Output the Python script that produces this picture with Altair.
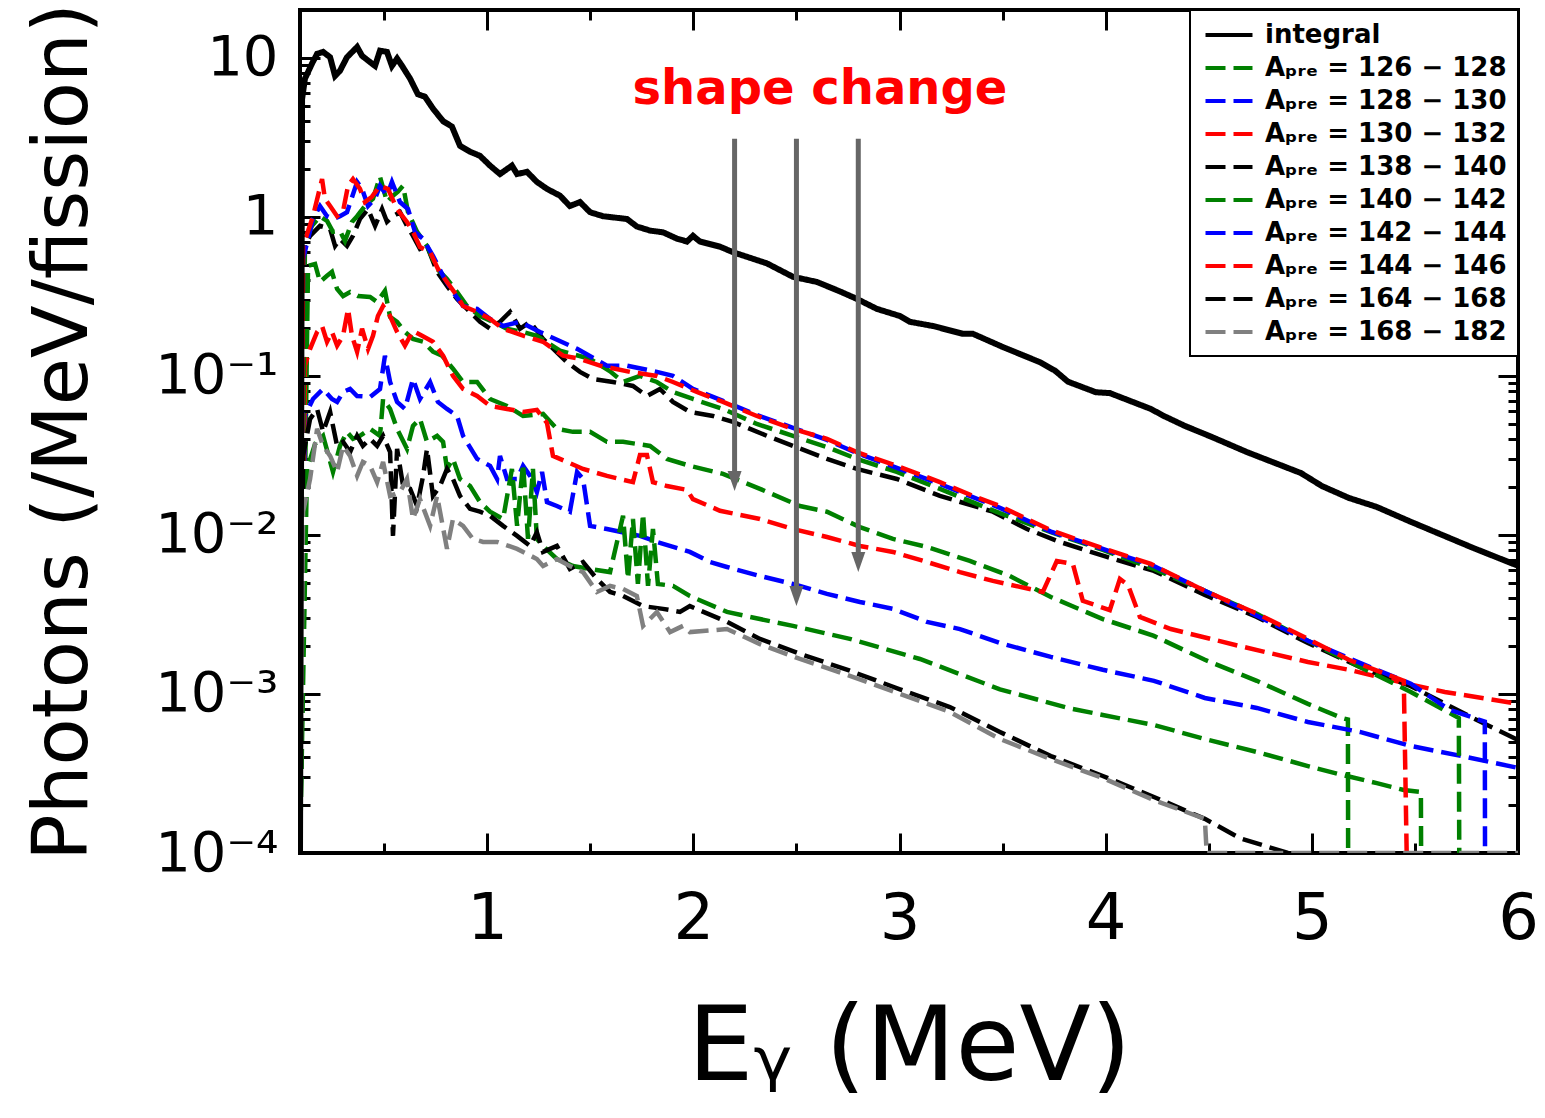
import altair as alt
import pandas as pd

FONT = "DejaVu Sans"

# ---------------- axes ----------------
X_DOMAIN = [0.092, 6.0]
Y_DOMAIN = [1e-4, 20.0]
X_TICKS = [0.5, 1.0, 1.5, 2.0, 2.5, 3.0, 3.5, 4.0, 4.5, 5.0, 5.5, 6.0]
X_LABELS = [1, 2, 3, 4, 5, 6]
Y_LABELS = [1e-4, 1e-3, 1e-2, 1e-1, 1.0, 10.0]
Y_TICKS = [m * d for d in Y_LABELS for m in range(1, 10) if m * d <= 20.0]

# ---------------- legend ----------------
SUB = "\u209a\u1d63\u2091"  # subscript "pre"
RANGES = [(126, 128), (128, 130), (130, 132), (138, 140), (140, 142),
          (142, 144), (144, 146), (164, 168), (168, 182)]
SERIES = ["integral"] + [f"A{SUB} = {a} \u2212 {b}" for a, b in RANGES]
COLORS = ["#000000", "#008000", "#0000ff", "#ff0000", "#000000",
          "#008000", "#0000ff", "#ff0000", "#000000", "#808080"]
DASHES = [[1, 0]] + [[20, 8]] * 9

# ---------------- curves (E [MeV], photons/MeV/fission) ----------------
integral = [(0.092, 1e-4), (0.102, 5.5), (0.116, 7.4), (0.150, 9.2), (0.175, 10.6), (0.204, 10.9),
            (0.238, 10.1), (0.262, 7.7), (0.286, 8.3), (0.320, 10.1), (0.369, 11.7), (0.393, 10.3),
            (0.432, 9.4), (0.456, 8.9), (0.480, 11.1), (0.514, 10.9), (0.538, 8.9), (0.563, 9.9),
            (0.587, 8.9), (0.626, 7.4), (0.664, 5.9), (0.698, 5.7), (0.737, 4.8), (0.786, 4.0),
            (0.829, 3.7), (0.868, 2.8), (0.917, 2.57), (0.965, 2.42), (1.014, 2.1), (1.062, 1.86),
            (1.120, 2.1), (1.145, 1.86), (1.193, 1.92), (1.241, 1.66), (1.290, 1.5), (1.353, 1.36),
            (1.401, 1.17), (1.450, 1.24), (1.499, 1.07), (1.562, 1.01), (1.678, 0.97), (1.726, 0.87),
            (1.790, 0.82), (1.853, 0.80), (1.920, 0.73), (1.969, 0.70), (1.998, 0.76), (2.032, 0.70),
            (2.129, 0.65), (2.192, 0.60), (2.357, 0.51), (2.483, 0.42), (2.599, 0.39), (2.711, 0.34),
            (2.793, 0.305), (2.890, 0.264), (3.002, 0.238), (3.050, 0.219), (3.162, 0.206),
            (3.307, 0.184), (3.356, 0.184), (3.501, 0.152), (3.681, 0.122), (3.754, 0.108),
            (3.817, 0.092), (3.952, 0.079), (4.020, 0.078), (4.219, 0.062), (4.282, 0.056),
            (4.384, 0.0485), (4.515, 0.0413), (4.685, 0.0332), (4.947, 0.0245), (5.049, 0.0203),
            (5.179, 0.0171), (5.315, 0.0150), (5.480, 0.0121), (5.781, 0.0083), (6.0, 0.0064)]

a126_128 = [(0.092, 1e-4), (0.131, 0.492), (0.165, 0.506), (0.189, 0.390), (0.223, 0.426), (0.247, 0.451),
            (0.272, 0.352), (0.301, 0.318), (0.335, 0.337), (0.373, 0.318), (0.432, 0.314), (0.466, 0.292),
            (0.504, 0.343), (0.529, 0.235), (0.563, 0.219), (0.601, 0.189), (0.640, 0.171), (0.689, 0.164),
            (0.737, 0.142), (0.781, 0.134), (0.834, 0.111), (0.883, 0.0916), (0.951, 0.0916),
            (1.014, 0.0716), (1.096, 0.0647), (1.174, 0.0560), (1.271, 0.0577), (1.338, 0.0465),
            (1.416, 0.0445), (1.499, 0.0445), (1.581, 0.0385), (1.659, 0.0385), (1.790, 0.0363),
            (1.872, 0.0301), (1.983, 0.0272), (2.144, 0.0242), (2.323, 0.0195), (2.517, 0.0152),
            (2.648, 0.0140), (2.808, 0.0112), (2.968, 0.00944), (3.133, 0.00841), (3.341, 0.00686),
            (3.535, 0.00552), (3.734, 0.00407), (3.986, 0.00296), (4.234, 0.00232), (4.481, 0.00164),
            (4.733, 0.00121), (4.981, 0.000866), (5.146, 0.000706), (5.175, 0.00069), (5.176, 1e-4)]

a128_130 = [(0.092, 1e-4), (0.116, 0.0560), (0.155, 0.0716), (0.204, 0.0828), (0.247, 0.0716),
            (0.272, 0.0686), (0.301, 0.0793), (0.335, 0.0828), (0.369, 0.0748), (0.432, 0.0738),
            (0.480, 0.0828), (0.504, 0.134), (0.529, 0.0916), (0.563, 0.0686), (0.601, 0.0620),
            (0.640, 0.0957), (0.674, 0.0716), (0.723, 0.0916), (0.761, 0.0686), (0.805, 0.0620),
            (0.854, 0.0560), (0.883, 0.0420), (0.951, 0.0301), (1.014, 0.0272), (1.048, 0.0225),
            (1.062, 0.0314), (1.096, 0.0225), (1.145, 0.0225), (1.174, 0.0272), (1.208, 0.0235),
            (1.241, 0.0186), (1.266, 0.0249), (1.290, 0.0161), (1.338, 0.0152), (1.401, 0.0140),
            (1.436, 0.0249), (1.465, 0.0225), (1.499, 0.0114), (1.581, 0.0109), (1.741, 0.00986),
            (1.823, 0.00904), (1.983, 0.00782), (2.081, 0.00676), (2.163, 0.00629), (2.323, 0.00552),
            (2.483, 0.00492), (2.648, 0.00426), (2.808, 0.00379), (2.968, 0.00343), (3.133, 0.00284),
            (3.293, 0.00256), (3.487, 0.00209), (3.734, 0.00171), (3.986, 0.00142), (4.234, 0.00121),
            (4.481, 0.000944), (4.733, 0.000817), (4.981, 0.000667), (5.233, 0.000577),
            (5.480, 0.000471), (5.727, 0.000407), (6.0, 0.000343)]

a130_132 = [(0.092, 1e-4), (0.116, 0.116), (0.141, 0.148), (0.175, 0.189), (0.199, 0.206), (0.223, 0.164),
            (0.247, 0.189), (0.272, 0.155), (0.301, 0.179), (0.325, 0.264), (0.344, 0.179), (0.369, 0.142),
            (0.393, 0.198), (0.422, 0.148), (0.446, 0.179), (0.470, 0.238), (0.495, 0.275), (0.529, 0.238),
            (0.563, 0.189), (0.601, 0.155), (0.640, 0.192), (0.684, 0.179), (0.737, 0.164), (0.786, 0.134),
            (0.834, 0.100), (0.883, 0.0828), (0.951, 0.0748), (1.014, 0.0647), (1.096, 0.0620),
            (1.174, 0.0594), (1.241, 0.0612), (1.290, 0.0506), (1.319, 0.0314), (1.387, 0.0288),
            (1.465, 0.0260), (1.581, 0.0235), (1.707, 0.0215), (1.741, 0.0318), (1.775, 0.0318),
            (1.804, 0.0215), (1.872, 0.0203), (1.969, 0.0192), (1.998, 0.0168), (2.129, 0.0142),
            (2.323, 0.0126), (2.483, 0.0109), (2.648, 0.00971), (2.808, 0.00853), (2.968, 0.00782),
            (3.133, 0.00676), (3.293, 0.00584), (3.453, 0.00514), (3.695, 0.00438), (3.763, 0.00686),
            (3.841, 0.00657), (3.889, 0.00385), (4.020, 0.00337), (4.069, 0.00529), (4.108, 0.00485),
            (4.166, 0.00305), (4.316, 0.00256), (4.651, 0.00200), (4.981, 0.00159), (5.179, 0.00142),
            (5.461, 0.00116), (5.645, 0.00103), (6.0, 0.000866)]

a138_140 = [(0.092, 1e-4), (0.107, 0.630), (0.141, 0.760), (0.189, 0.878), (0.238, 0.841), (0.262, 0.657),
            (0.286, 0.728), (0.320, 0.657), (0.349, 0.760), (0.383, 0.971), (0.422, 1.12), (0.456, 0.878),
            (0.490, 1.12), (0.514, 0.93), (0.543, 1.01), (0.577, 1.07), (0.611, 0.878), (0.640, 0.760),
            (0.674, 0.630), (0.708, 0.657), (0.757, 0.451), (0.805, 0.368), (0.854, 0.305), (0.902, 0.264),
            (0.965, 0.219), (1.014, 0.198), (1.062, 0.219), (1.111, 0.253), (1.159, 0.198), (1.208, 0.219),
            (1.271, 0.171), (1.387, 0.122), (1.450, 0.106), (1.513, 0.0957), (1.610, 0.0916),
            (1.707, 0.0865), (1.775, 0.0748), (1.838, 0.0828), (1.901, 0.0686), (1.983, 0.0594),
            (2.095, 0.0560), (2.192, 0.0514), (2.357, 0.0420), (2.483, 0.0363), (2.648, 0.0301),
            (2.793, 0.0260), (2.987, 0.0225), (3.196, 0.0176), (3.453, 0.0140), (3.618, 0.0109),
            (3.778, 0.00904), (4.006, 0.00727), (4.234, 0.00594), (4.481, 0.00420), (4.733, 0.00305),
            (4.981, 0.00209), (5.233, 0.00148), (5.480, 0.00112), (5.781, 0.000706), (6.0, 0.000514)]

a140_142 = [(0.092, 1e-4), (0.116, 0.696), (0.150, 0.878), (0.189, 1.01), (0.223, 0.944), (0.252, 0.805),
            (0.286, 0.816), (0.310, 0.706), (0.344, 0.93), (0.369, 1.01), (0.407, 1.17), (0.446, 1.30),
            (0.480, 1.79), (0.514, 1.24), (0.543, 1.36), (0.567, 1.44), (0.592, 1.57), (0.616, 1.07),
            (0.660, 0.805), (0.708, 0.657), (0.757, 0.471), (0.805, 0.407), (0.854, 0.337), (0.902, 0.275),
            (0.965, 0.238), (1.028, 0.219), (1.096, 0.198), (1.174, 0.189), (1.241, 0.179), (1.353, 0.144),
            (1.499, 0.128), (1.596, 0.107), (1.659, 0.0916), (1.741, 0.100), (1.823, 0.0916),
            (1.901, 0.0793), (1.998, 0.0716), (2.144, 0.0620), (2.308, 0.0499), (2.483, 0.0420),
            (2.648, 0.0357), (2.793, 0.0301), (2.987, 0.0249), (3.196, 0.0195), (3.487, 0.0137),
            (3.734, 0.0104), (3.986, 0.00805), (4.234, 0.00611), (4.481, 0.00445), (4.733, 0.00319),
            (4.981, 0.00216), (5.233, 0.00148), (5.480, 0.00103), (5.713, 0.000706), (5.715, 1e-4)]

a142_144 = [(0.092, 1e-4), (0.107, 0.545), (0.155, 0.971), (0.189, 1.17), (0.223, 1.01), (0.252, 0.971),
            (0.286, 1.01), (0.320, 1.07), (0.369, 1.66), (0.393, 1.50), (0.422, 1.17), (0.456, 1.30),
            (0.480, 1.57), (0.514, 1.36), (0.538, 1.66), (0.577, 1.24), (0.616, 1.12), (0.650, 0.805),
            (0.689, 0.728), (0.737, 0.569), (0.786, 0.426), (0.834, 0.337), (0.883, 0.275), (0.951, 0.264),
            (1.014, 0.228), (1.077, 0.206), (1.159, 0.219), (1.256, 0.189), (1.436, 0.148), (1.581, 0.116),
            (1.678, 0.116), (1.823, 0.106), (1.901, 0.100), (1.998, 0.0828), (2.144, 0.0697),
            (2.308, 0.0568), (2.483, 0.0472), (2.648, 0.0396), (2.793, 0.0327), (2.987, 0.0264),
            (3.196, 0.0209), (3.487, 0.0148), (3.734, 0.0105), (3.986, 0.00817), (4.234, 0.00638),
            (4.481, 0.00445), (4.733, 0.00310), (4.981, 0.00216), (5.233, 0.00157), (5.480, 0.00116),
            (5.664, 0.00080), (5.839, 0.00067), (5.84, 1e-4)]

a144_146 = [(0.092, 1e-4), (0.107, 0.657), (0.155, 1.01), (0.199, 1.73), (0.213, 1.30), (0.238, 1.17),
            (0.272, 1.01), (0.301, 1.09), (0.325, 1.57), (0.349, 1.73), (0.383, 1.50), (0.407, 1.24),
            (0.441, 1.34), (0.480, 1.57), (0.519, 1.50), (0.563, 1.12), (0.611, 0.93), (0.640, 0.805),
            (0.674, 0.647), (0.723, 0.602), (0.761, 0.471), (0.805, 0.390), (0.854, 0.318), (0.883, 0.275),
            (0.951, 0.253), (1.014, 0.228), (1.077, 0.198), (1.174, 0.179), (1.271, 0.164), (1.368, 0.134),
            (1.450, 0.128), (1.547, 0.116), (1.693, 0.106), (1.823, 0.100), (1.901, 0.0916),
            (2.017, 0.0793), (2.144, 0.0686), (2.308, 0.0560), (2.483, 0.0465), (2.648, 0.0402),
            (2.793, 0.0332), (2.987, 0.0272), (3.196, 0.0215), (3.356, 0.0176), (3.487, 0.0152),
            (3.734, 0.0107), (3.967, 0.00841), (4.219, 0.00657), (4.481, 0.00445), (4.748, 0.00314),
            (4.981, 0.00222), (5.179, 0.00164), (5.446, 0.00121), (5.46, 1e-4)]

a164_168 = [(0.092, 1e-4), (0.107, 0.0314), (0.141, 0.0537), (0.175, 0.0620), (0.204, 0.0445),
            (0.238, 0.0594), (0.272, 0.0363), (0.301, 0.0385), (0.335, 0.0332), (0.369, 0.0420),
            (0.397, 0.0363), (0.432, 0.0402), (0.466, 0.0363), (0.495, 0.0420), (0.529, 0.0332),
            (0.543, 0.00986), (0.563, 0.0348), (0.592, 0.0203), (0.626, 0.0195), (0.660, 0.0152),
            (0.689, 0.0235), (0.708, 0.0348), (0.737, 0.0176), (0.771, 0.0203), (0.805, 0.0260),
            (0.834, 0.0225), (0.868, 0.0176), (0.917, 0.0146), (0.965, 0.0140), (1.014, 0.0132),
            (1.077, 0.0114), (1.145, 0.00986), (1.208, 0.00853), (1.241, 0.0104), (1.271, 0.00782),
            (1.338, 0.00853), (1.401, 0.00611), (1.465, 0.00676), (1.532, 0.00529), (1.596, 0.00438),
            (1.659, 0.00413), (1.756, 0.00357), (1.853, 0.00343), (1.935, 0.00328), (1.983, 0.00357),
            (2.163, 0.00284), (2.323, 0.00222), (2.517, 0.00179), (2.759, 0.00140), (3.002, 0.00107),
            (3.244, 0.000828), (3.487, 0.000577), (3.734, 0.000407), (3.986, 0.000305),
            (4.234, 0.000225), (4.481, 0.000164), (4.651, 0.000124), (4.884, 1e-4)]

a168_182 = [(0.092, 1e-4), (0.107, 0.0140), (0.141, 0.0225), (0.175, 0.0465), (0.204, 0.0363),
            (0.238, 0.0314), (0.272, 0.0249), (0.301, 0.0363), (0.335, 0.0314), (0.369, 0.0235),
            (0.397, 0.0288), (0.432, 0.0272), (0.466, 0.0215), (0.495, 0.0288), (0.529, 0.0176),
            (0.577, 0.0186), (0.611, 0.0225), (0.640, 0.0126), (0.674, 0.0168), (0.723, 0.0114),
            (0.757, 0.0176), (0.805, 0.00817), (0.834, 0.0126), (0.883, 0.0114), (0.931, 0.00944),
            (0.980, 0.00904), (1.048, 0.00904), (1.145, 0.00817), (1.241, 0.00706), (1.271, 0.00638),
            (1.338, 0.00706), (1.401, 0.00638), (1.465, 0.00584), (1.532, 0.00438), (1.596, 0.00478),
            (1.659, 0.00457), (1.726, 0.00413), (1.756, 0.00268), (1.823, 0.00328), (1.887, 0.00245),
            (1.950, 0.00268), (1.983, 0.00245), (2.163, 0.00256), (2.323, 0.00206), (2.517, 0.00166),
            (2.759, 0.00130), (3.002, 0.00100), (3.244, 0.000771), (3.487, 0.000521),
            (3.734, 0.000390), (3.986, 0.000296), (4.234, 0.000215), (4.481, 0.000164),
            (4.49, 1e-4), (6.0, 1e-4)]

# an additional green curve drawn below the blue 128-130 one
extra_green = [(0.092, 1e-4), (0.126, 0.0260), (0.165, 0.0373), (0.204, 0.0420), (0.252, 0.0249),
               (0.286, 0.0363), (0.320, 0.0445), (0.349, 0.0402), (0.383, 0.0420), (0.432, 0.0465),
               (0.480, 0.0420), (0.495, 0.0716), (0.529, 0.0620), (0.563, 0.0465), (0.611, 0.0348),
               (0.640, 0.0485), (0.674, 0.0537), (0.708, 0.0385), (0.757, 0.0420), (0.786, 0.0385),
               (0.805, 0.0260), (0.834, 0.0301), (0.868, 0.0225), (0.917, 0.0203), (0.965, 0.0161),
               (1.014, 0.0140), (1.077, 0.0126), (1.120, 0.0260), (1.145, 0.0114), (1.174, 0.0280),
               (1.198, 0.00944), (1.222, 0.0260), (1.241, 0.00944), (1.271, 0.00853), (1.338, 0.00706),
               (1.416, 0.00638), (1.499, 0.00611), (1.596, 0.00584), (1.659, 0.0132), (1.683, 0.00529),
               (1.707, 0.0126), (1.731, 0.00492), (1.756, 0.0136), (1.780, 0.00478), (1.804, 0.0109),
               (1.828, 0.00492), (1.901, 0.00478), (1.983, 0.00413), (2.163, 0.00328), (2.323, 0.00296),
               (2.483, 0.00268), (2.759, 0.00222), (3.099, 0.00166), (3.487, 0.00107), (3.817, 0.000817),
               (3.986, 0.000738), (4.234, 0.000638), (4.481, 0.000521), (4.733, 0.000432),
               (4.981, 0.000352), (5.146, 0.000310), (5.315, 0.000275), (5.446, 0.000249),
               (5.529, 0.000242), (5.53, 1e-4)]

# (legend index, points) in drawing order
CURVES = [(0, integral), (1, a126_128), (2, a128_130), (3, a130_132), (1, extra_green),
          (4, a138_140), (5, a140_142), (6, a142_144), (7, a144_146), (8, a164_168), (9, a168_182)]

# ---------------- annotation ----------------
ARROW_E = [2.2, 2.5, 2.8]
ARROW_TOP = [3.1, 3.1, 3.1]
ARROW_BASE = [0.0251, 0.00478, 0.00782]
ARROW_TIP = [0.0189, 0.00357, 0.00584]
NOTE_TEXT = ["shape change"]
NOTE_E = [2.614]
NOTE_Y = [5.14]

# ---------------- build tables ----------------
rows = []
for cid, (li, pts) in enumerate(CURVES):
    for i, (e, v) in enumerate(pts):
        rows.append({"curve": cid, "series": SERIES[li], "E": e, "v": v, "i": i})
df = pd.DataFrame(rows)
df_int = df[df["series"] == "integral"]
df_rest = df[df["series"] != "integral"]
df_arrow = pd.DataFrame({"E": ARROW_E, "top": ARROW_TOP, "base": ARROW_BASE, "tip": ARROW_TIP})
df_note = pd.DataFrame({"E": NOTE_E, "v": NOTE_Y, "t": NOTE_TEXT})

W, H = 1218, 843
xs = alt.Scale(domain=X_DOMAIN, nice=False, zero=False)
ys = alt.Scale(type="log", domain=Y_DOMAIN, nice=False)

X_TSIZE = {"condition": {"test": "datum.value % 1 == 0", "value": 20}, "value": 10}
Y_TSIZE = {"condition": {"test": "abs(log(datum.value) / LN10 - round(log(datum.value) / LN10)) < 0.01",
                         "value": 20}, "value": 10}


def tick_axis(orient, offset, values, size):
    return alt.Axis(orient=orient, offset=offset, values=values, labels=False, domain=False,
                    grid=False, ticks=True, tickSize=size, tickWidth=3, tickColor="black", title=None)


legend = alt.Legend(title=None, orient="top-right", offset=0, padding=11, strokeColor="black",
                    fillColor="white", labelFont=FONT, labelFontSize=26,
                    labelFontWeight="bold", labelColor="black", labelLimit=500,
                    symbolType="M -2 0 L 2 0", symbolSize=552, symbolStrokeWidth=4,
                    symbolOffset=14, labelOffset=22, rowPadding=6)

color = alt.Color("series:N", scale=alt.Scale(domain=SERIES, range=COLORS), legend=legend)
dash = alt.StrokeDash("series:N", scale=alt.Scale(domain=SERIES, range=DASHES), legend=legend)

x_main = alt.Axis(values=X_LABELS, format="d", ticks=False, domain=False, grid=False,
                  labelFont=FONT, labelFontSize=64, labelPadding=34, labelColor="black",
                  labelFlush=False, title="E\u1d67 (MeV)", titleFont=FONT, titleFontSize=104,
                  titleFontWeight="normal", titleColor="black", titlePadding=46)
y_main = alt.Axis(values=Y_LABELS, ticks=False, domain=False, grid=False,
                  labelExpr="datum.value >= 1 ? format(datum.value, 'd') : '10\u207b' + "
                            "['', '\u00b9', '\u00b2', '\u00b3', '\u2074'][round(-log(datum.value) / LN10)]",
                  labelFont=FONT, labelFontSize=56, labelPadding=22, labelColor="black",
                  labelFlush=False, title="Photons (/MeV/fission)", titleFont=FONT,
                  titleFontSize=77, titleFontWeight="normal", titleColor="black", titlePadding=52)

lines = alt.Chart(df_rest).mark_line(strokeWidth=4.5, clip=True).encode(
    x=alt.X("E:Q", scale=xs, axis=x_main),
    y=alt.Y("v:Q", scale=ys, axis=y_main),
    color=color, strokeDash=dash, detail="curve:N", order="i:Q")

integral_line = alt.Chart(df_int).mark_line(strokeWidth=6, clip=True).encode(
    x=alt.X("E:Q", scale=xs, axis=None),
    y=alt.Y("v:Q", scale=ys, axis=None),
    color=color, strokeDash=dash, detail="curve:N", order="i:Q")

shafts = alt.Chart(df_arrow).mark_rule(color="#666666", strokeWidth=5).encode(
    x=alt.X("E:Q", scale=xs, axis=tick_axis("top", -H, X_TICKS, X_TSIZE)),
    y=alt.Y("top:Q", scale=ys, axis=tick_axis("right", -W, Y_TICKS, Y_TSIZE)),
    y2="base:Q")

heads = alt.Chart(df_arrow).mark_point(shape="M -0.35 -1 L 0.35 -1 L 0 0 Z", size=1600, filled=True,
                                       color="#666666", opacity=1).encode(
    x=alt.X("E:Q", scale=xs, axis=tick_axis("bottom", -H, X_TICKS, X_TSIZE)),
    y=alt.Y("tip:Q", scale=ys, axis=tick_axis("left", -W, Y_TICKS, Y_TSIZE)))

note = alt.Chart(df_note).mark_text(align="center", baseline="alphabetic", font=FONT, fontSize=48,
                                    fontWeight="bold", color="#ff0000").encode(
    x=alt.X("E:Q", scale=xs, axis=None),
    y=alt.Y("v:Q", scale=ys, axis=None),
    text="t:N")

chart = alt.layer(lines, integral_line, shafts, heads, note).resolve_axis(
    x="independent", y="independent"
).properties(
    width=W, height=H,
    padding={"left": 300, "top": 10, "right": 27, "bottom": 265},
    autosize=alt.AutoSizeParams(type="none"),
    background="white",
).configure_view(stroke="black", strokeWidth=4).configure_legend(strokeWidth=2)

chart.save("out.html", embed_options={"renderer": "svg", "actions": False})
